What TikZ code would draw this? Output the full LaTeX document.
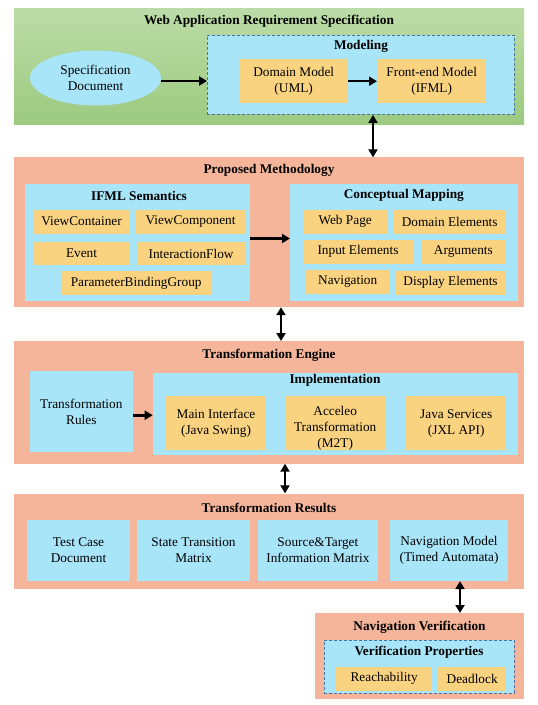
\documentclass[tikz,border=0pt]{standalone}
\usepackage{fontspec}
\setmainfont{Liberation Serif}
\usetikzlibrary{arrows.meta,shapes.geometric}

\definecolor{grnlight}{HTML}{BCDCA7}
\definecolor{grndark}{HTML}{9CCA80}
\definecolor{salmon}{HTML}{F4B59B}
\definecolor{sky}{HTML}{A8E5F9}
\definecolor{amber}{HTML}{FAD381}
\definecolor{dashblue}{HTML}{4A74A8}

\newcommand\basefont{\fontsize{13.3bp}{16bp}\selectfont}

\tikzset{
  sz/.style 2 args={minimum width=#1bp, minimum height=#2bp},
  panel/.style={fill=salmon, anchor=north west, inner sep=0pt},
  bluebox/.style={fill=sky, anchor=north west, inner sep=0pt, align=center},
  itembox/.style={fill=amber, anchor=north west, inner sep=0pt, align=center},
  dashbox/.style={fill=sky, draw=dashblue, dash pattern=on 3bp off 2bp,
    line width=0.9bp, anchor=north west, inner sep=0pt},
  heading/.style={font=\basefont\bfseries, inner sep=0pt},
  arr/.style={-{Triangle[length=8bp,width=9bp]}, line width=2.6bp},
  darr/.style={{Triangle[length=8bp,width=9bp]}-{Triangle[length=8bp,width=9bp]},
    line width=2.6bp},
}

\begin{document}
\begin{tikzpicture}[x=1bp, y=-1bp, font=\basefont]
\useasboundingbox (0,0) rectangle (538,705);

% ---- Web application requirement specification ----
\node[anchor=north west, inner sep=0pt, top color=grnlight, bottom color=grndark,
      sz={510}{116}] (wars) at (14,8) {};
\node[heading] (warsT) at (269,21) {Web Application Requirement Specification};
\node[ellipse, fill=sky, sz={131}{55}, inner sep=0pt, align=center]
      (spec) at (95.5,78) {Specification\\Document};
\node[dashbox, sz={307}{79}] (model) at (207,35) {};
\node[heading] (modelT) at (361,46.5) {Modeling};
\node[itembox, sz={109}{44}] (dom) at (239,59) {Domain Model\\(UML)};
\node[itembox, sz={109}{44}] (front) at (377,59) {Front-end Model\\(IFML)};
\draw[arr] ([yshift=-3bp]spec.east) -- ([yshift=-3bp]spec.east -| model.west);
\draw[arr] (dom.east) -- (front.west);

% ---- Proposed methodology ----
\node[panel, sz={510}{149.5}] (pm) at (14,157.3) {};
\node[heading] (pmT) at (269,170.7) {Proposed Methodology};
\node[bluebox, sz={225}{117.4}] (ifml) at (25,183.3) {};
\node[heading] (ifmlT) at (139,195.7) {IFML Semantics};
\node[itembox, sz={97.3}{24}] (vcont) at (32.7,209.3) {ViewContainer};
\node[itembox, sz={109.3}{24}] (vcomp) at (135.7,209.3) {ViewComponent};
\node[itembox, sz={97.3}{23.3}] (event) at (32.7,241.7) {Event};
\node[itembox, sz={108.3}{23.3}] (iflow) at (136.7,241.7) {InteractionFlow};
\node[itembox, sz={150}{24.3}] (pbg) at (61,270.7) {ParameterBindingGroup};

\node[bluebox, sz={227.7}{117.4}] (cm) at (290,183.3) {};
\node[heading] (cmT) at (403.8,195.7) {Conceptual Mapping};
\node[itembox, sz={85.4}{24}] (wpage) at (302.3,209.3) {Web Page};
\node[itembox, sz={112.4}{24}] (domel) at (393.3,209.3) {Domain Elements};
\node[itembox, sz={109}{24}] (inel) at (303.3,239.3) {Input Elements};
\node[itembox, sz={85}{24}] (args) at (420.7,239.3) {Arguments};
\node[itembox, sz={85}{24}] (navi) at (305,269.3) {Navigation};
\node[itembox, sz={110.7}{23.6}] (disp) at (395,270.7) {Display Elements};
\draw[arr] ([yshift=3.7bp]ifml.east) -- ([yshift=3.7bp]ifml.east -| cm.west);

% ---- Transformation engine ----
\node[panel, sz={510}{122.3}] (te) at (14,341) {};
\node[heading] (teT) at (269,355.7) {Transformation Engine};
\node[bluebox, sz={102.3}{80.7}] (rules) at (30,371) {Transformation\\Rules};
\node[bluebox, sz={365}{82}] (impl) at (152.7,372.3) {};
\node[heading] (implT) at (335,380.7) {Implementation};
\node[itembox, sz={100.3}{54.3}] (mainif) at (165.7,395.7) {Main Interface\\(Java Swing)};
\node[itembox, sz={100}{54.3}] (accel) at (285,395.7) {};
\begin{scope}
  \clip (accel.north west) rectangle (accel.south east);
  \node[align=center, inner sep=0pt] (accelT) at ([yshift=-5bp]accel.center)
       {Acceleo\\Transformation\\(M2T)};
\end{scope}
\node[itembox, sz={100}{54.3}] (jsrv) at (406,395.7) {Java Services\\(JXL API)};
\draw[arr] ([yshift=-3.7bp]rules.east) -- ([yshift=-3.7bp]rules.east -| impl.west);

% ---- Transformation results ----
\node[panel, sz={510}{95}] (tres) at (14,493.3) {};
\node[heading] (tresT) at (269,507.7) {Transformation Results};
\node[bluebox, sz={103.3}{60.7}] (tcase) at (26.7,520) {Test Case\\Document};
\node[bluebox, sz={113.3}{60.7}] (stm) at (136.7,520) {State Transition\\Matrix};
\node[bluebox, sz={120}{60.7}] (stim) at (257.7,520) {Source\&Target\\Information Matrix};
\node[bluebox, sz={117.7}{60.7}] (navm) at (390,520) {Navigation Model\\(Timed Automata)};

% ---- Navigation verification ----
\node[panel, sz={209}{86}] (nv) at (315,613) {};
\node[heading] (nvT) at (419.5,627.5) {Navigation Verification};
\node[dashbox, sz={190}{53}] (vp) at (324,640) {};
\node[heading] (vpT) at (419,652.5) {Verification Properties};
\node[itembox, sz={96}{24}] (reach) at (336,666.5) {Reachability};
\node[itembox, sz={68}{24}] (dead) at (438,666.5) {Deadlock};

% ---- links between the stages ----
\coordinate (xa) at (373,0);
\coordinate (xb) at (281,0);
\coordinate (xc) at (285,0);
\coordinate (xd) at (460,0);
\draw[darr] (model.south -| xa) -- (pm.north -| xa);
\draw[darr] (pm.south -| xb) -- (te.north -| xb);
\draw[darr] (te.south -| xc) -- (tres.north -| xc);
\draw[darr] (navm.south -| xd) -- (nv.north -| xd);
\end{tikzpicture}
\end{document}
